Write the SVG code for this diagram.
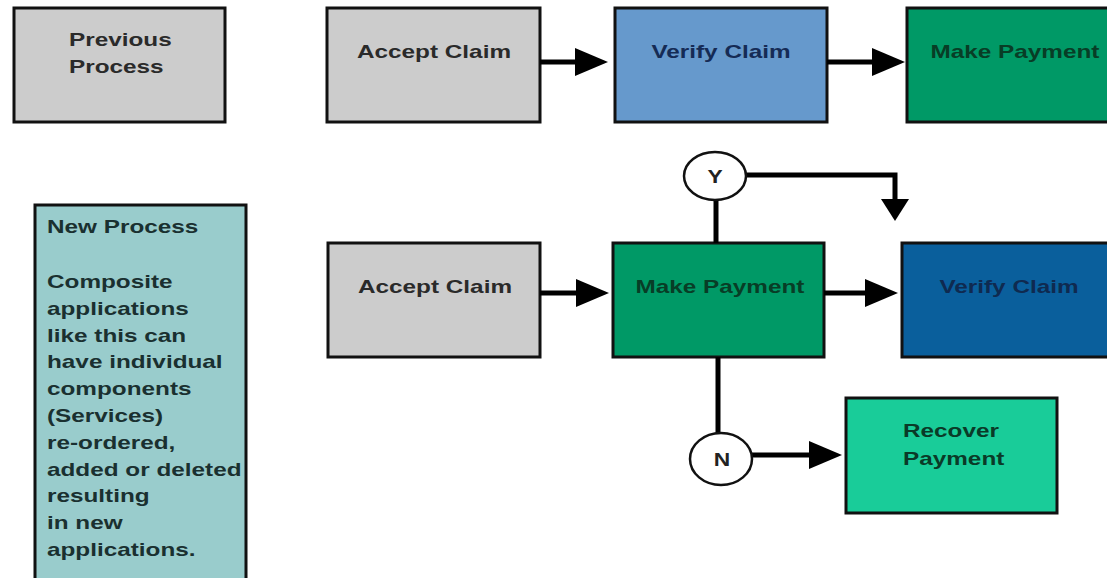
<svg xmlns="http://www.w3.org/2000/svg" width="1107" height="578" viewBox="0 0 1107 578">
<style>
.box{stroke:#111;stroke-width:3}
.t{font-family:"Liberation Sans",Arial,sans-serif;font-weight:bold;font-size:19px}
.c{stroke:#000;stroke-width:5;fill:none}
.dec{fill:#fff;stroke:#111;stroke-width:2.5}
</style>
<defs>
<marker id="ah" markerUnits="userSpaceOnUse" markerWidth="33" markerHeight="28" refX="1" refY="14" orient="auto">
<path d="M0,0 L33,14 L0,28 z" fill="#000"/>
</marker>
<marker id="ahv" markerUnits="userSpaceOnUse" markerWidth="22" markerHeight="28" refX="1" refY="14" orient="auto">
<path d="M0,0 L22,14 L0,28 z" fill="#000"/>
</marker>
</defs>
<rect width="1107" height="578" fill="#fff"/>

<g id="previous-process">
<rect class="box" x="14" y="8" width="211" height="114" fill="#cccccc"/>
<text class="t" fill="#2a2a2a" transform="translate(69 46) scale(1.28 1)">Previous</text>
<text class="t" fill="#2a2a2a" transform="translate(69 73) scale(1.28 1)">Process</text>
</g>

<g id="accept-claim-1">
<rect class="box" x="327" y="8" width="213" height="114" fill="#cccccc"/>
<text class="t" fill="#2a2a2a" text-anchor="middle" transform="translate(434 58) scale(1.28 1)">Accept Claim</text>
</g>

<g id="verify-claim-1">
<rect class="box" x="615" y="8" width="212" height="114" fill="#6699cc"/>
<text class="t" fill="#152b55" text-anchor="middle" transform="translate(721 58) scale(1.28 1)">Verify Claim</text>
</g>

<g id="make-payment-1">
<rect class="box" x="907" y="8" width="215" height="114" fill="#009966"/>
<text class="t" fill="#083d26" text-anchor="middle" transform="translate(1015 58) scale(1.28 1)">Make Payment</text>
</g>

<g id="new-process">
<rect class="box" x="35" y="205" width="211" height="390" fill="#99cccc"/>
<g fill="#1a3030">
<text class="t" transform="translate(47 233) scale(1.28 1)">New Process</text>
<text class="t" transform="translate(47 288) scale(1.28 1)">Composite</text>
<text class="t" transform="translate(47 314.8) scale(1.28 1)">applications</text>
<text class="t" transform="translate(47 341.6) scale(1.28 1)">like this can</text>
<text class="t" transform="translate(47 368.4) scale(1.28 1)">have individual</text>
<text class="t" transform="translate(47 395.2) scale(1.28 1)">components</text>
<text class="t" transform="translate(47 422) scale(1.28 1)">(Services)</text>
<text class="t" transform="translate(47 448.8) scale(1.28 1)">re-ordered,</text>
<text class="t" transform="translate(47 475.6) scale(1.28 1)">added or deleted</text>
<text class="t" transform="translate(47 502.4) scale(1.28 1)">resulting</text>
<text class="t" transform="translate(47 529.2) scale(1.28 1)">in new</text>
<text class="t" transform="translate(47 556) scale(1.28 1)">applications.</text>
</g>
</g>

<g id="accept-claim-2">
<rect class="box" x="328" y="243" width="212" height="114" fill="#cccccc"/>
<text class="t" fill="#2a2a2a" text-anchor="middle" transform="translate(435 293) scale(1.28 1)">Accept Claim</text>
</g>

<g id="make-payment-2">
<rect class="box" x="613" y="243" width="211" height="114" fill="#009966"/>
<text class="t" fill="#083d26" text-anchor="middle" transform="translate(720 293) scale(1.28 1)">Make Payment</text>
</g>

<g id="verify-claim-2">
<rect class="box" x="902" y="243" width="220" height="114" fill="#0a5f9c"/>
<text class="t" fill="#0f2a50" text-anchor="middle" transform="translate(1009 293) scale(1.28 1)">Verify Claim</text>
</g>

<g id="recover-payment">
<rect class="box" x="846" y="398" width="211" height="115" fill="#19cc99"/>
<text class="t" fill="#0a3a28" transform="translate(903 437) scale(1.28 1)">Recover</text>
<text class="t" fill="#0a3a28" transform="translate(903 465) scale(1.28 1)">Payment</text>
</g>

<g id="connectors">
<line class="c" x1="540" y1="62" x2="576" y2="62" marker-end="url(#ah)"/>
<line class="c" x1="827" y1="62" x2="873" y2="62" marker-end="url(#ah)"/>
<line class="c" x1="540" y1="293" x2="577" y2="293" marker-end="url(#ah)"/>
<line class="c" x1="824" y1="293" x2="866" y2="293" marker-end="url(#ah)"/>
<line class="c" x1="716" y1="200" x2="716" y2="243"/>
<polyline class="c" points="746,175 895,175 895,200" marker-end="url(#ahv)"/>
<line class="c" x1="718" y1="357" x2="718" y2="434"/>
<line class="c" x1="752" y1="455" x2="810" y2="455" marker-end="url(#ah)"/>
</g>

<g id="decision-y">
<ellipse class="dec" cx="715" cy="176" rx="31" ry="24"/>
<text class="t" fill="#222" text-anchor="middle" transform="translate(715 183) scale(1.2 1)">Y</text>
</g>

<g id="decision-n">
<ellipse class="dec" cx="721" cy="459" rx="31" ry="26"/>
<text class="t" fill="#222" text-anchor="middle" transform="translate(722 466) scale(1.2 1)">N</text>
</g>
</svg>
